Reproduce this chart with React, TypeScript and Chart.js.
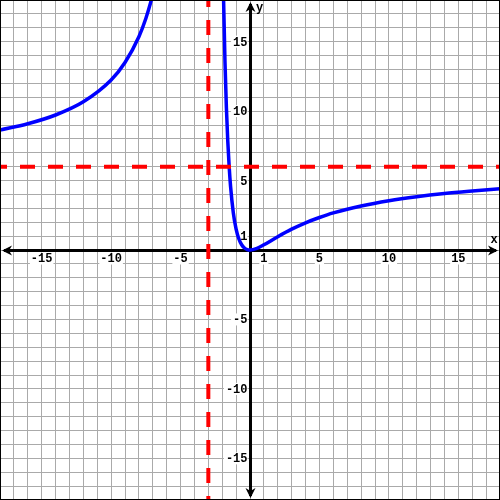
import React, { useEffect, useRef } from "react";
import { Chart, registerables } from "chart.js";

Chart.register(...registerables);

// Left branch of the curve (x < -3)
const leftX = [-18, -16, -14, -12, -10, -9, -8, -7.5, -7, -6.8];
const leftY = [8.64, 9.09, 9.72, 10.67, 12.24, 13.5, 15.36, 16.67, 18.38, 19.2];

// Right branch of the curve (x > -3)
const rightX = [-1.95, -1.9, -1.8, -1.7, -1.6, -1.5, -1.4, -1.2, -1, -0.8, -0.6, -0.4, -0.2, 0, 0.5, 1, 2, 3, 4, 5, 6, 8, 10, 12, 14, 16, 18];
const rightY = [20.69, 17.9, 13.5, 10.26, 7.84, 6, 4.59, 2.67, 1.5, 0.79, 0.375, 0.142, 0.031, 0, 0.122, 0.375, 0.96, 1.5, 1.96, 2.34, 2.67, 3.17, 3.55, 3.84, 4.07, 4.25, 4.41];

// Asymptotes
const verticalAsymptote = -3;
const horizontalAsymptote = 6;

// Axis range and tick labels
const axisMin = -18;
const axisMax = 18;
const xTickLabels = [-15, -10, -5, 1, 5, 10, 15];
const yTickLabels = [15, 10, 5, 1, -5, -10, -15];

const axesPlugin = {
  id: "customAxes",
  beforeDatasetsDraw(chart: any) {
    const { ctx, scales } = chart;
    const xs = scales.x;
    const ys = scales.y;
    const x0 = Math.round(xs.getPixelForValue(0)) + 0.5;
    const y0 = Math.round(ys.getPixelForValue(0)) + 0.5;
    const L = xs.getPixelForValue(axisMin);
    const R = xs.getPixelForValue(axisMax);
    const T = ys.getPixelForValue(axisMax);
    const B = ys.getPixelForValue(axisMin);
    ctx.save();
    ctx.strokeStyle = "#000";
    ctx.fillStyle = "#000";
    ctx.lineWidth = 3;
    ctx.beginPath();
    ctx.moveTo(L + 4, y0);
    ctx.lineTo(R - 4, y0);
    ctx.moveTo(x0, T + 4);
    ctx.lineTo(x0, B - 4);
    ctx.stroke();
    // arrowheads
    const arrow = (pts: number[][]) => {
      ctx.beginPath();
      ctx.moveTo(pts[0][0], pts[0][1]);
      for (let i = 1; i < pts.length; i++) ctx.lineTo(pts[i][0], pts[i][1]);
      ctx.closePath();
      ctx.fill();
    };
    arrow([[R - 2, y0], [R - 12, y0 - 5], [R - 9, y0], [R - 12, y0 + 5]]);
    arrow([[L + 2, y0], [L + 12, y0 - 5], [L + 9, y0], [L + 12, y0 + 5]]);
    arrow([[x0, T + 2], [x0 - 5, T + 12], [x0, T + 9], [x0 + 5, T + 12]]);
    arrow([[x0, B - 2], [x0 - 5, B - 12], [x0, B - 9], [x0 + 5, B - 12]]);

    ctx.font = "bold 12px 'Liberation Mono', 'Courier New', monospace";
    ctx.textBaseline = "middle";
    // x tick labels
    ctx.textAlign = "center";
    for (const v of xTickLabels) {
      const px = xs.getPixelForValue(v);
      const t = String(v);
      const w = ctx.measureText(t).width;
      ctx.fillStyle = "#fff";
      ctx.fillRect(px - w / 2 - 1, y0 + 2, w + 2, 12);
      ctx.fillStyle = "#000";
      ctx.fillText(t, px, y0 + 8);
    }
    // y tick labels
    ctx.textAlign = "right";
    for (const v of yTickLabels) {
      const py = ys.getPixelForValue(v);
      const t = String(v);
      const w = ctx.measureText(t).width;
      ctx.fillStyle = "#fff";
      ctx.fillRect(x0 - 4 - w - 1, py - 6, w + 2, 12);
      ctx.fillStyle = "#000";
      ctx.fillText(t, x0 - 3, py + 1);
    }
    // axis names
    ctx.textAlign = "center";
    ctx.fillText("x", R - 6, y0 - 11);
    ctx.fillText("y", x0 + 9, T + 8);
    ctx.restore();
  },
  afterDraw(chart: any) {
    const { ctx } = chart;
    ctx.save();
    ctx.strokeStyle = "#000";
    ctx.lineWidth = 1;
    ctx.strokeRect(0.5, 0.5, chart.width - 1, chart.height - 1);
    ctx.restore();
  },
};

export default function App() {
  const ref = useRef<HTMLCanvasElement>(null);
  useEffect(() => {
    if (!ref.current) return;
    const chart = new Chart(ref.current, {
      type: "scatter",
      data: {
        datasets: [
          {
            data: [
              { x: verticalAsymptote, y: axisMax },
              { x: verticalAsymptote, y: axisMin },
            ],
            showLine: true,
            borderColor: "#ff0000",
            borderWidth: 4,
            borderDash: [15, 13],
            borderDashOffset: 8,
            pointRadius: 0,
            borderCapStyle: "butt",
          },
          {
            data: [
              { x: axisMin, y: horizontalAsymptote },
              { x: axisMax, y: horizontalAsymptote },
            ],
            showLine: true,
            borderColor: "#ff0000",
            borderWidth: 4,
            borderDash: [15, 13],
            borderDashOffset: 8,
            pointRadius: 0,
            borderCapStyle: "butt",
          },
          {
            data: leftX.map((x, i) => ({ x, y: leftY[i] })),
            showLine: true,
            borderColor: "#0000ff",
            borderWidth: 3.5,
            pointRadius: 0,
            cubicInterpolationMode: "monotone",
          },
          {
            data: rightX.map((x, i) => ({ x, y: rightY[i] })),
            showLine: true,
            borderColor: "#0000ff",
            borderWidth: 3.5,
            pointRadius: 0,
            cubicInterpolationMode: "monotone",
          },
        ],
      },
      options: {
        responsive: false,
        animation: false,
        layout: { padding: 0 },
        plugins: { legend: { display: false }, tooltip: { enabled: false } },
        scales: {
          x: {
            type: "linear",
            min: axisMin,
            max: axisMax,
            ticks: { display: false, stepSize: 1 },
            grid: { drawTicks: false, color: "#aaaaaa", lineWidth: 1 },
            border: { display: false },
          },
          y: {
            type: "linear",
            min: axisMin,
            max: axisMax,
            ticks: { display: false, stepSize: 1 },
            grid: { drawTicks: false, color: "#aaaaaa", lineWidth: 1 },
            border: { display: false },
          },
        },
      },
      plugins: [axesPlugin],
    } as any);
    return () => chart.destroy();
  }, []);
  return (
    <div style={{ position: "absolute", left: 0, top: 0, width: 500, height: 500, background: "#fff" }}>
      <canvas ref={ref} width={500} height={500} />
    </div>
  );
}
